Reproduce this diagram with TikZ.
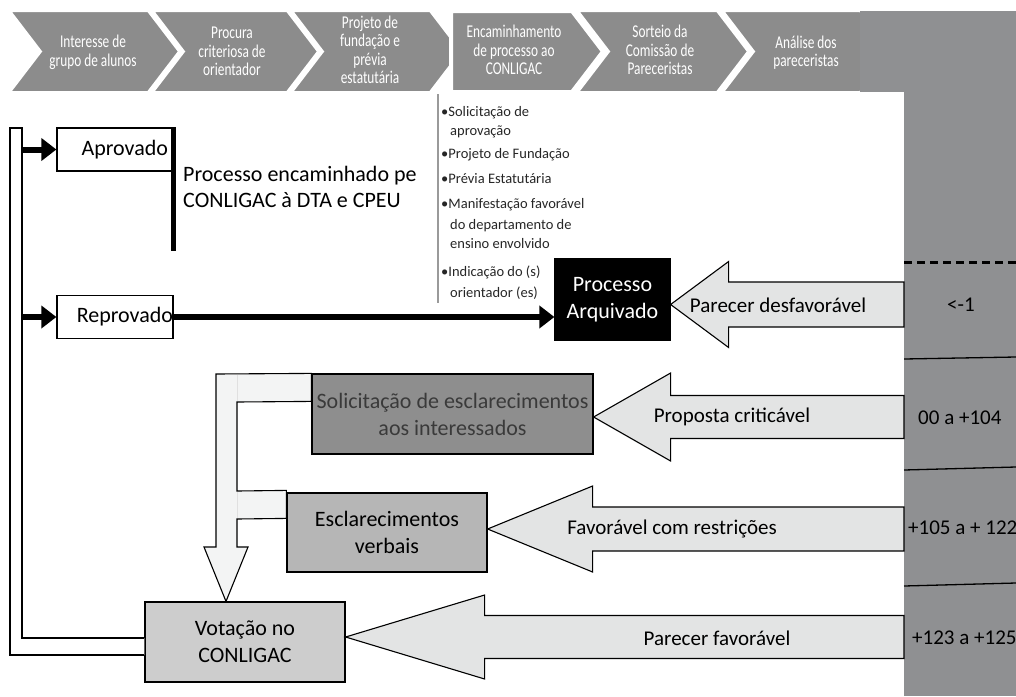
\documentclass[tikz,border=0pt]{standalone}
\usepackage{fontspec}
\setmainfont{Carlito}
\newfontfamily\condf{Carlito}[FakeStretch=0.74]
\usetikzlibrary{calc,arrows.meta}
\definecolor{chev}{HTML}{8C8C8C}
\definecolor{colg}{HTML}{8F9092}
\definecolor{arrf}{HTML}{E3E4E4}
\definecolor{solf}{HTML}{8E8E8E}
\definecolor{verf}{HTML}{B6B6B6}
\definecolor{votf}{HTML}{CDCDCD}
\definecolor{downf}{HTML}{F3F4F4}
\definecolor{soltext}{HTML}{3A3A3A}
\definecolor{bulline}{HTML}{9A9A9A}
\tikzset{
 chevshape/.style={fill=chev, draw=white, line width=2pt, line join=miter},
 chevtext/.style={text=white, font=\condf\fontsize{18}{18.5}\selectfont, align=center, inner sep=0pt},
 box/.style={draw=black, line width=1.2pt, inner sep=0pt, font=\fontsize{22}{27}\selectfont, align=center},
 blockarr/.style={fill=arrf, draw=black, line width=1.1pt, line join=miter},
 arrlabel/.style={font=\fontsize{21}{25}\selectfont, inner sep=0pt},
 bullettext/.style={font=\fontsize{14.5}{19}\selectfont, text=black!85, anchor=base west, inner sep=0pt},
 thickarrow/.style={line width=6pt, -{Triangle[length=15pt,width=22pt]}},
 coltext/.style={font=\fontsize{21}{25}\selectfont, inner sep=0pt},
 colline/.style={line width=1.3pt},
}
\newcommand\bkarrow[4]{%
 \draw[blockarr] (#1) -- ++(#2,-#3) -- ++(0,#3-#4) -- ($(col.west |- #1)+(0,-#4)$)
   -- ($(col.west |- #1)+(0,#4)$) -- ($(#1)+(#2,#4)$) -- ++(0,#3-#4) -- cycle;}
\begin{document}
\begin{tikzpicture}[x=1pt,y=-1pt]
\useasboundingbox (0,0) rectangle (1016,696);
% chevrons
\draw[chevshape] (10,11) -- (148,11) -- (179,51.5) -- (148,92) -- (10,92) -- (41,51.5) -- cycle;
\draw[chevshape] (153,11) -- (287,11) -- (318,51.5) -- (287,92) -- (153,92) -- (184,51.5) -- cycle;
\draw[chevshape] (292,11) -- (430,11) -- (461,51.5) -- (430,92) -- (292,92) -- (323,51.5) -- cycle;
\draw[chevshape, line width=4pt] (451,11) -- (572,11) -- (603,51.5) -- (572,92) -- (451,92) -- cycle;
\draw[chevshape] (578,11) -- (717,11) -- (748,51.5) -- (717,92) -- (578,92) -- (609,51.5) -- cycle;
\draw[chevshape] (723,11) -- (860,11) -- (891,51.5) -- (860,92) -- (723,92) -- (754,51.5) -- cycle;
\node[chevtext] (c1) at (93,52.5) {Interesse de\\grupo de alunos};
\node[chevtext] (c2) at (232,51.5) {Procura\\criteriosa de\\orientador};
\node[chevtext] (c3) at (370,50) {Projeto de\\fundação e\\prévia\\estatutária};
\node[chevtext] (c4) at (514,50) {Encaminhamento\\de processo ao\\CONLIGAC};
\node[chevtext] (c5) at (660,50) {Sorteio da\\Comissão de\\Pareceristas};
\node[chevtext] (c6) at (806,52.5) {Análise dos\\pareceristas};
% right column
\fill[colg] (860,11) rectangle (905,92);
\node[fill=colg, inner sep=0pt, minimum width=112pt, minimum height=685pt, anchor=north west] (col) at (904,11) {};
\coordinate (d1) at (904,262);
\draw[line width=3pt, dash pattern=on 8pt off 5pt] (d1) -- (d1 -| col.east);
\coordinate (s1a) at (904,359); \coordinate (s1b) at (1016,357);
\coordinate (s2a) at (904,470); \coordinate (s2b) at (1016,467);
\coordinate (s3a) at (904,586); \coordinate (s3b) at (1016,583);
\draw[colline] (s1a) -- (s1b);
\draw[colline] (s2a) -- (s2b);
\draw[colline] (s3a) -- (s3b);
\node[coltext] (v1) at (961,305) {<-1};
\node[coltext, anchor=west] (v2) at (918,418) {00 a +104};
\node[coltext, anchor=west] (v3) at (908,528) {+105 a + 122};
\node[coltext, anchor=west] (v4) at (912,638) {+123 a +125};
% bullet list
\draw[bulline, line width=2.5pt] (438,94) -- (438,303);
\node[bullettext] (b1) at (441,116.5) {•Solicitação de};
\node[bullettext] (b1b) at (450,135) {aprovação};
\node[bullettext] (b2) at (441,158) {•Projeto de Fundação};
\node[bullettext] (b3) at (441,183.5) {•Prévia Estatutária};
\node[bullettext] (b4) at (441,208.5) {•Manifestação favorável};
\node[bullettext] (b4b) at (450,229) {do departamento de};
\node[bullettext] (b4c) at (450,248.5) {ensino envolvido};
\node[bullettext] (b5) at (441,276) {•Indicação do (s)};
\node[bullettext] (b5b) at (450,297) {orientador (es)};
% boxes
\node[box, minimum width=116pt, minimum height=43pt, text width=106pt, align=right] (apr) at (115,149.5) {Aprovado};
\node[box, minimum width=116pt, minimum height=43pt, text width=116pt, align=right] (rep) at (115,317) {Reprovado};
\draw[line width=5pt] (apr.north east) -- ++(0,124);
\node[font=\fontsize{22}{26}\selectfont, align=left, anchor=west, inner sep=0pt] (enc) at (183,187) {Processo encaminhado pe\\CONLIGAC à DTA e CPEU};
\node[box, fill=black, text=white, minimum width=115pt, minimum height=81pt] (arq) at (612.5,299.5) {Processo\\Arquivado};
\node[box, fill=solf, text=soltext, minimum width=281pt, minimum height=80pt] (sol) at (452.5,414) {Solicitação de esclarecimentos\\aos interessados};
\node[box, fill=verf, minimum width=200pt, minimum height=79pt] (verb) at (387,532.5) {Esclarecimentos\\verbais};
\node[box, fill=votf, minimum width=200pt, minimum height=80pt] (vot) at (245,642) {Votação no\\CONLIGAC};
% left hollow bar
\coordinate (barin) at (22,0);
\draw[fill=white, line width=1.2pt] ($(vot.west)+(0,-4)$) -- (22,638) -- (22,128) -- (10,128) -- (10,655) -- ($(vot.west)+(0,13)$);
\draw[thickarrow] (apr.west -| barin) -- (apr.west);
\draw[thickarrow] (rep.west -| barin) -- (rep.west);
\draw[thickarrow] (rep.east) -- (rep.east -| arq.west);
% hollow down arrow
\coordinate (vtip) at ($(vot.north)+(-19,0)$);
\draw[fill=downf, line width=1.1pt, line join=miter] (216,374) -- (sol.north west) -- ($(sol.north west)+(0,28)$) -- (237,402) -- (237,491) -- ($(verb.north west)+(0,-2)$) -- ($(verb.north west)+(0,26)$) -- (237,519) -- (237,547) -- (248,547) -- (vtip) -- (204,547) -- (216,547) -- cycle;
\draw[black!12, line width=0.8pt] (237,375) -- (237,401);
\draw[black!12, line width=0.8pt] (237,492) -- (237,518);
% block arrows
\coordinate (tA) at ($(arq.east)+(0,5)$);
\bkarrow{tA}{58}{43}{22.5}
\coordinate (tB) at ($(sol.east)+(0,3)$);
\bkarrow{tB}{77}{44}{21.5}
\coordinate (tC) at ($(verb.east)+(0,-3.5)$);
\bkarrow{tC}{105}{43}{22}
\coordinate (tD) at ($(vot.east)+(0,-5)$);
\bkarrow{tD}{139}{42}{21.5}
\node[arrlabel] (lA) at (778,305) {Parecer desfavorável};
\node[arrlabel] (lB) at (732,417) {Proposta criticável};
\node[arrlabel] (lC) at (672,529) {Favorável com restrições};
\node[arrlabel] (lD) at (717,638) {Parecer favorável};
\end{tikzpicture}
\end{document}
